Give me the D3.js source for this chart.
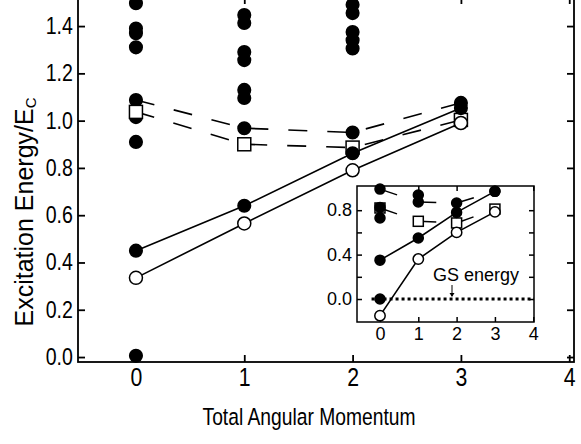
<!DOCTYPE html>
<html>
<head>
<meta charset="utf-8">
<script src="https://cdn.jsdelivr.net/npm/d3@7"></script>
<style>
body { margin: 0; background: #fff; }
text { font-family: "Liberation Sans", Arial, sans-serif; fill: #000; }
</style>
</head>
<body>
<div id="chart"></div>
<script>
var W = 581, H = 444;

// main panel: levels vs total angular momentum L
var momentum = [0, 1, 2, 3];
var solidFilled = [0.45, 0.64, 0.862, 1.053];
var solidOpen = [0.335, 0.565, 0.79, 0.99];
var dashFilled = [1.087, 0.968, 0.95, 1.075];
var dashSquare = [1.037, 0.90, 0.886, 1.003];
// remaining filled levels, one list per L
var extraLevels = [
    [1.497, 1.39, 1.37, 1.31, 1.015, 0.91, 0.005],
    [1.447, 1.413, 1.29, 1.256, 1.13, 1.096],
    [1.49, 1.455, 1.375, 1.34, 1.305],
    []
];
var xTicks = [0, 1, 2, 3, 4];
var yTicks = [0, 0.2, 0.4, 0.6, 0.8, 1.0, 1.2, 1.4];

// inset
var insetSolidFilled = [0.35, 0.55, 0.78, 0.97];
var insetSolidOpen = [-0.15, 0.36, 0.60, 0.785];
var insetDashFilled = [0.99, 0.874, 0.865, 0.97];
var insetDashSquare = [0.82, 0.70, 0.685, 0.81];
var insetExtra = [
    [0.825, 0.73, 0.0],
    [0.937],
    [],
    []
];
var insetXTicks = [0, 1, 2, 3, 4];
var insetYTicks = [0, 0.2, 0.4, 0.6, 0.8];
var insetYLabels = [0, 0.4, 0.8];

var svg = d3.select("#chart").append("svg")
    .attr("width", W)
    .attr("height", H);

var x = d3.scaleLinear().domain([-0.535, 4.044]).range([78, 574]);
var y = d3.scaleLinear().domain([-0.021, 1.523]).range([362, -3]);

function pts(ys) {
    return momentum.map(function (m, i) { return [m, ys[i]]; });
}

// frame + ticks
function frame(g, xs, ys, xt, yt, len, sw) {
    var x0 = xs.range()[0], x1 = xs.range()[1], y0 = ys.range()[0], y1 = ys.range()[1];
    g.append("rect")
        .attr("x", x0).attr("y", y1)
        .attr("width", x1 - x0).attr("height", y0 - y1)
        .style("fill", "#fff").style("stroke", "#000").style("stroke-width", sw);
    var sides = [
        [d3.axisBottom(xs).tickValues(xt), "translate(0," + y0 + ")"],
        [d3.axisTop(xs).tickValues(xt), "translate(0," + y1 + ")"],
        [d3.axisLeft(ys).tickValues(yt), "translate(" + x0 + ",0)"],
        [d3.axisRight(ys).tickValues(yt), "translate(" + x1 + ",0)"]
    ];
    sides.forEach(function (s) {
        var a = g.append("g").attr("transform", s[1])
            .call(s[0].tickSize(-len).tickFormat(""));
        a.select(".domain").remove();
        a.selectAll("line").style("stroke", "#000").style("stroke-width", sw);
    });
}

var main = svg.append("g");
frame(main, x, y, xTicks, yTicks, 7, 1.8);

// tick labels
var gxl = main.append("g").attr("transform", "translate(0,362)")
    .call(d3.axisBottom(x).tickValues(xTicks).tickSize(0).tickPadding(6).tickFormat(d3.format("d")));
gxl.select(".domain").remove();
gxl.selectAll("text").style("font-size", "25px").attr("transform", "scale(0.85,1)")
    .attr("x", 0);

var gyl = main.append("g").attr("transform", "translate(78,0)")
    .call(d3.axisLeft(y).tickValues(yTicks).tickSize(0).tickPadding(6).tickFormat(d3.format(".1f")));
gyl.select(".domain").remove();
gyl.selectAll("text").style("font-size", "23px").attr("transform", "scale(0.85,1)");

// axis titles
main.append("text")
    .attr("transform", "translate(309,425) scale(0.82,1)")
    .attr("text-anchor", "middle")
    .style("font-size", "23.5px")
    .text("Total Angular Momentum");

var yt = main.append("text")
    .attr("transform", "translate(33,212) rotate(-90)")
    .attr("text-anchor", "middle")
    .style("font-size", "25px");
yt.append("tspan").text("Excitation Energy/E");
yt.append("tspan").attr("dy", 3).style("font-size", "15px").text("C");

var line = d3.line()
    .x(function (d) { return x(d[0]); })
    .y(function (d) { return y(d[1]); });

function drawLines(g, ln, solids, dashes, dashArr) {
    solids.forEach(function (s) {
        g.append("path").attr("d", ln(pts(s)))
            .style("fill", "none").style("stroke", "#000").style("stroke-width", 1.6);
    });
    dashes.forEach(function (s) {
        g.append("path").attr("d", ln(pts(s)))
            .style("fill", "none").style("stroke", "#000").style("stroke-width", 1.6)
            .style("stroke-dasharray", dashArr);
    });
}

drawLines(main, line, [solidFilled, solidOpen], [dashFilled, dashSquare], "19,20");

function circles(g, xs, ys, data, r, fill) {
    g.selectAll(null).data(data).enter().append("circle")
        .attr("cx", function (d) { return xs(d[0]); })
        .attr("cy", function (d) { return ys(d[1]); })
        .attr("r", r)
        .style("fill", fill).style("stroke", "#000").style("stroke-width", 1.5);
}
function squares(g, xs, ys, data, s) {
    g.selectAll(null).data(data).enter().append("rect")
        .attr("x", function (d) { return xs(d[0]) - s / 2; })
        .attr("y", function (d) { return ys(d[1]) - s / 2; })
        .attr("width", s).attr("height", s)
        .style("fill", "#fff").style("stroke", "#000").style("stroke-width", 1.5);
}
function flat(lv) {
    var out = [];
    lv.forEach(function (arr, i) { arr.forEach(function (v) { out.push([i, v]); }); });
    return out;
}

circles(main, x, y, flat(extraLevels), 6.3, "#000");
circles(main, x, y, pts(dashFilled), 6.3, "#000");
squares(main, x, y, pts(dashSquare), 13);
circles(main, x, y, pts(solidFilled), 6.3, "#000");
circles(main, x, y, pts(solidOpen), 6.5, "#fff");

// inset
var xi = d3.scaleLinear().domain([-0.6, 4.02]).range([357, 534]);
var yi = d3.scaleLinear().domain([-0.207, 1.018]).range([322, 186]);
var inset = svg.append("g");
frame(inset, xi, yi, insetXTicks, insetYTicks, 5, 1.5);

var ixl = inset.append("g").attr("transform", "translate(0,322)")
    .call(d3.axisBottom(xi).tickValues(insetXTicks).tickSize(0).tickPadding(5).tickFormat(d3.format("d")));
ixl.select(".domain").remove();
ixl.selectAll("text").style("font-size", "18px");
var iyl = inset.append("g").attr("transform", "translate(357,0)")
    .call(d3.axisLeft(yi).tickValues(insetYLabels).tickSize(0).tickPadding(5).tickFormat(d3.format(".1f")));
iyl.select(".domain").remove();
iyl.selectAll("text").style("font-size", "18px");

// ground state reference line
inset.append("line")
    .attr("x1", xi(-0.22)).attr("x2", xi(4.02))
    .attr("y1", yi(0)).attr("y2", yi(0))
    .style("stroke", "#000").style("stroke-width", 3).style("stroke-dasharray", "3,3");

var lineI = d3.line()
    .x(function (d) { return xi(d[0]); })
    .y(function (d) { return yi(d[1]); });
drawLines(inset, lineI, [insetSolidFilled, insetSolidOpen], [], "");
// inset dashed lines: one short dash leaving each point
[insetDashFilled, insetDashSquare].forEach(function (s) {
    var p = pts(s);
    for (var i = 0; i < p.length - 1; i++) {
        inset.append("path").attr("d", lineI([p[i], p[i + 1]]))
            .style("fill", "none").style("stroke", "#000").style("stroke-width", 1.5)
            .style("stroke-dasharray", "18,100");
    }
});

circles(inset, xi, yi, pts(insetDashFilled), 5, "#000");
squares(inset, xi, yi, pts(insetDashSquare), 10);
circles(inset, xi, yi, flat(insetExtra), 5, "#000");
circles(inset, xi, yi, pts(insetSolidFilled), 5, "#000");
circles(inset, xi, yi, pts(insetSolidOpen), 5.2, "#fff");

inset.append("text")
    .attr("x", 476).attr("y", 281)
    .attr("text-anchor", "middle")
    .style("font-size", "18px")
    .text("GS energy");
inset.append("line")
    .attr("x1", xi(1.88)).attr("x2", xi(1.88))
    .attr("y1", 285).attr("y2", yi(0) - 3)
    .style("stroke", "#000").style("stroke-width", 1);
inset.append("path")
    .attr("d", "M" + (xi(1.88) - 2.5) + "," + (yi(0) - 6) + "L" + (xi(1.88) + 2.5) + "," + (yi(0) - 6) + "L" + xi(1.88) + "," + (yi(0) - 2) + "Z")
    .style("fill", "#000");
</script>
</body>
</html>
